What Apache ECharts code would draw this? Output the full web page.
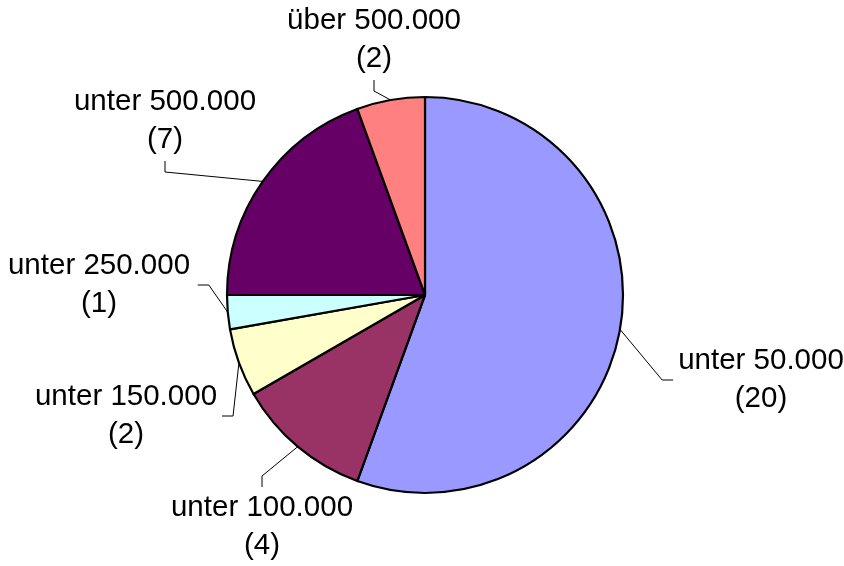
<!DOCTYPE html>
<html>
<head>
<meta charset="utf-8">
<script src="https://cdn.jsdelivr.net/npm/echarts@6/dist/echarts.min.js"></script>
<style>
html,body{margin:0;padding:0;background:#fff;}
#chart{width:844px;height:566px;}
</style>
</head>
<body>
<div id="chart"></div>
<script>
// Data
const categories = ['unter 50.000', 'unter 100.000', 'unter 150.000', 'unter 250.000', 'unter 500.000', 'über 500.000'];
const counts = [20, 4, 2, 1, 7, 2];

// Styles
const colors = ['#9999FF', '#993366', '#FFFFCC', '#CCFFFF', '#660066', '#FF8080'];
const labelCenters = [[761, 380], [262, 527], [126, 416], [99, 285], [165, 121], [374, 40]];
const labelSides = ['left', 'top', 'right', 'right', 'bottom', 'bottom'];
const leaderLen = 11;

const chart = echarts.init(document.getElementById('chart'));
chart.setOption({
  animation: false,
  backgroundColor: '#ffffff',
  series: [{
    type: 'pie',
    center: [425, 295],
    radius: 198,
    startAngle: 90,
    clockwise: true,
    data: categories.map((name, i) => ({ name: name, value: counts[i], itemStyle: { color: colors[i] } })),
    itemStyle: { borderColor: '#000000', borderWidth: 2.2 },
    emphasis: { disabled: true },
    label: {
      show: true,
      position: 'outside',
      formatter: '{b}\n({c})',
      fontFamily: 'Liberation Sans, Arial, sans-serif',
      fontSize: 29.5,
      lineHeight: 38,
      color: '#000000',
      padding: [2, 5],
      align: 'center'
    },
    labelLine: {
      show: true,
      length: 10,
      length2: 10,
      smooth: false,
      lineStyle: { color: '#000000', width: 1 }
    },
    labelLayout: function (p) {
      const c = labelCenters[p.dataIndex];
      const w = p.labelRect.width, h = p.labelRect.height;
      const side = labelSides[p.dataIndex];
      let pt0, pt1;
      if (side === 'left') { pt0 = [c[0] - w / 2, c[1]]; pt1 = [pt0[0] - leaderLen, pt0[1]]; }
      else if (side === 'right') { pt0 = [c[0] + w / 2, c[1]]; pt1 = [pt0[0] + leaderLen, pt0[1]]; }
      else if (side === 'top') { pt0 = [c[0], c[1] - h / 2]; pt1 = [pt0[0], pt0[1] - leaderLen]; }
      else { pt0 = [c[0], c[1] + h / 2]; pt1 = [pt0[0], pt0[1] + leaderLen]; }
      const res = { x: c[0], y: c[1], align: 'center', verticalAlign: 'middle' };
      if (p.labelLinePoints && p.labelLinePoints[0]) {
        res.labelLinePoints = [p.labelLinePoints[0].slice(), pt1, pt0];
      }
      return res;
    }
  }]
});
</script>
</body>
</html>
